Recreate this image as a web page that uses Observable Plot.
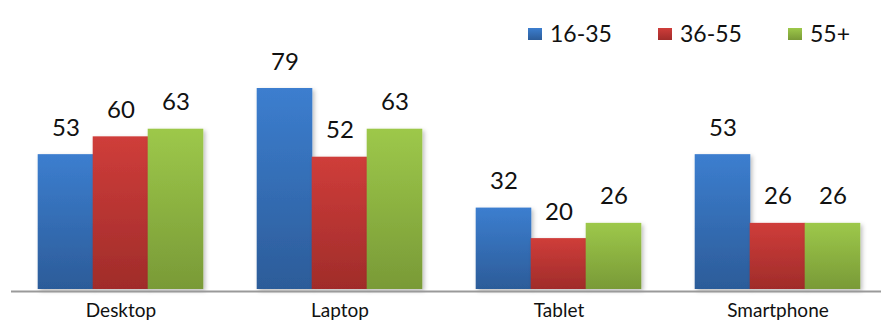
<!DOCTYPE html>
<html>
<head>
<meta charset="utf-8">
<script src="https://cdn.jsdelivr.net/npm/d3@7"></script>
<script src="https://cdn.jsdelivr.net/npm/@observablehq/plot@0.6"></script>
<style>
  html, body { margin: 0; padding: 0; background: #fff; overflow: hidden; width: 881px; height: 320px; }
  #legend { position: relative; height: 44px; font-family: Lato, "Open Sans", sans-serif; font-size: 23px; color: #111; }
  .item { position: absolute; top: 22px; display: flex; align-items: center; line-height: 1; }
  .sw { width: 14px; height: 12px; margin-right: 8px; }
  #chart svg { display: block; }
</style>
</head>
<body>
<div id="legend"></div>
<div id="chart"></div>
<script>
const categories = ["Desktop", "Laptop", "Tablet", "Smartphone"];
const series = ["16-35", "36-55", "55+"];
const values1635 = [53, 79, 32, 53];
const values3655 = [60, 52, 20, 26];
const values55 = [63, 63, 26, 26];
const gradTop = ["#3c7ecf", "#cf3d3a", "#9dc84a"];
const gradBottom = ["#2c5c99", "#a02c2a", "#799a37"];

const seriesValues = [values1635, values3655, values55];
const data = [];
categories.forEach((c, i) => series.forEach((s, j) => data.push({category: c, series: s, value: seriesValues[j][i]})));

// legend (HTML, above the SVG)
const legendX = [528, 658, 788];
const legend = document.getElementById("legend");
series.forEach((s, j) => {
  const it = document.createElement("div");
  it.className = "item";
  it.style.left = legendX[j] + "px";
  it.innerHTML = `<div class="sw" style="background:linear-gradient(${gradTop[j]},${gradBottom[j]})"></div><span>${s}</span>`;
  legend.appendChild(it);
});

const font = "Lato, 'Open Sans', sans-serif";

const plot = Plot.plot({
  width: 881,
  height: 276,
  marginTop: 44,
  marginBottom: 31,
  marginLeft: 11,
  marginRight: -6,
  style: {fontFamily: font, fontSize: "19px", color: "#111", background: "#fff"},
  fx: {domain: categories, padding: 0, label: null, axis: "bottom", tickSize: 0, tickPadding: 14},
  x: {domain: series, paddingInner: 0, paddingOuter: 0.4909, axis: null},
  y: {domain: [0, 79], axis: null},
  marks: [
    ...series.map((s, j) => Plot.barY(data.filter(d => d.series === s), {
      fx: "category", x: "series", y: "value", fill: `url(#grad${j})`,
      insetLeft: -0.3, insetRight: -0.3
    })),
    Plot.ruleY([0], {stroke: "#9a9a9a", strokeWidth: 2, dy: 2}),
    Plot.text(data, {
      fx: "category", x: "series", y: "value", text: d => String(d.value),
      dy: -19, lineAnchor: "bottom", textAnchor: "middle",
      fontSize: 24, fill: "#111"
    })
  ]
});

// gradient + shadow definitions
const svg = d3.select(plot);
const defs = svg.insert("defs", ":first-child");
series.forEach((s, j) => {
  const g = defs.append("linearGradient").attr("id", `grad${j}`)
    .attr("x1", 0).attr("y1", 0).attr("x2", 0).attr("y2", 1);
  g.append("stop").attr("offset", "0%").attr("stop-color", gradTop[j]);
  g.append("stop").attr("offset", "100%").attr("stop-color", gradBottom[j]);
});
const f = defs.append("filter").attr("id", "shadow")
  .attr("x", "-10%").attr("y", "-10%").attr("width", "130%").attr("height", "130%");
f.append("feDropShadow").attr("dx", 2).attr("dy", 2).attr("stdDeviation", 2)
  .attr("flood-color", "#000").attr("flood-opacity", 0.25);
svg.selectAll("g[aria-label='bar'] rect").attr("filter", "url(#shadow)");

document.getElementById("chart").appendChild(plot);
</script>
</body>
</html>
